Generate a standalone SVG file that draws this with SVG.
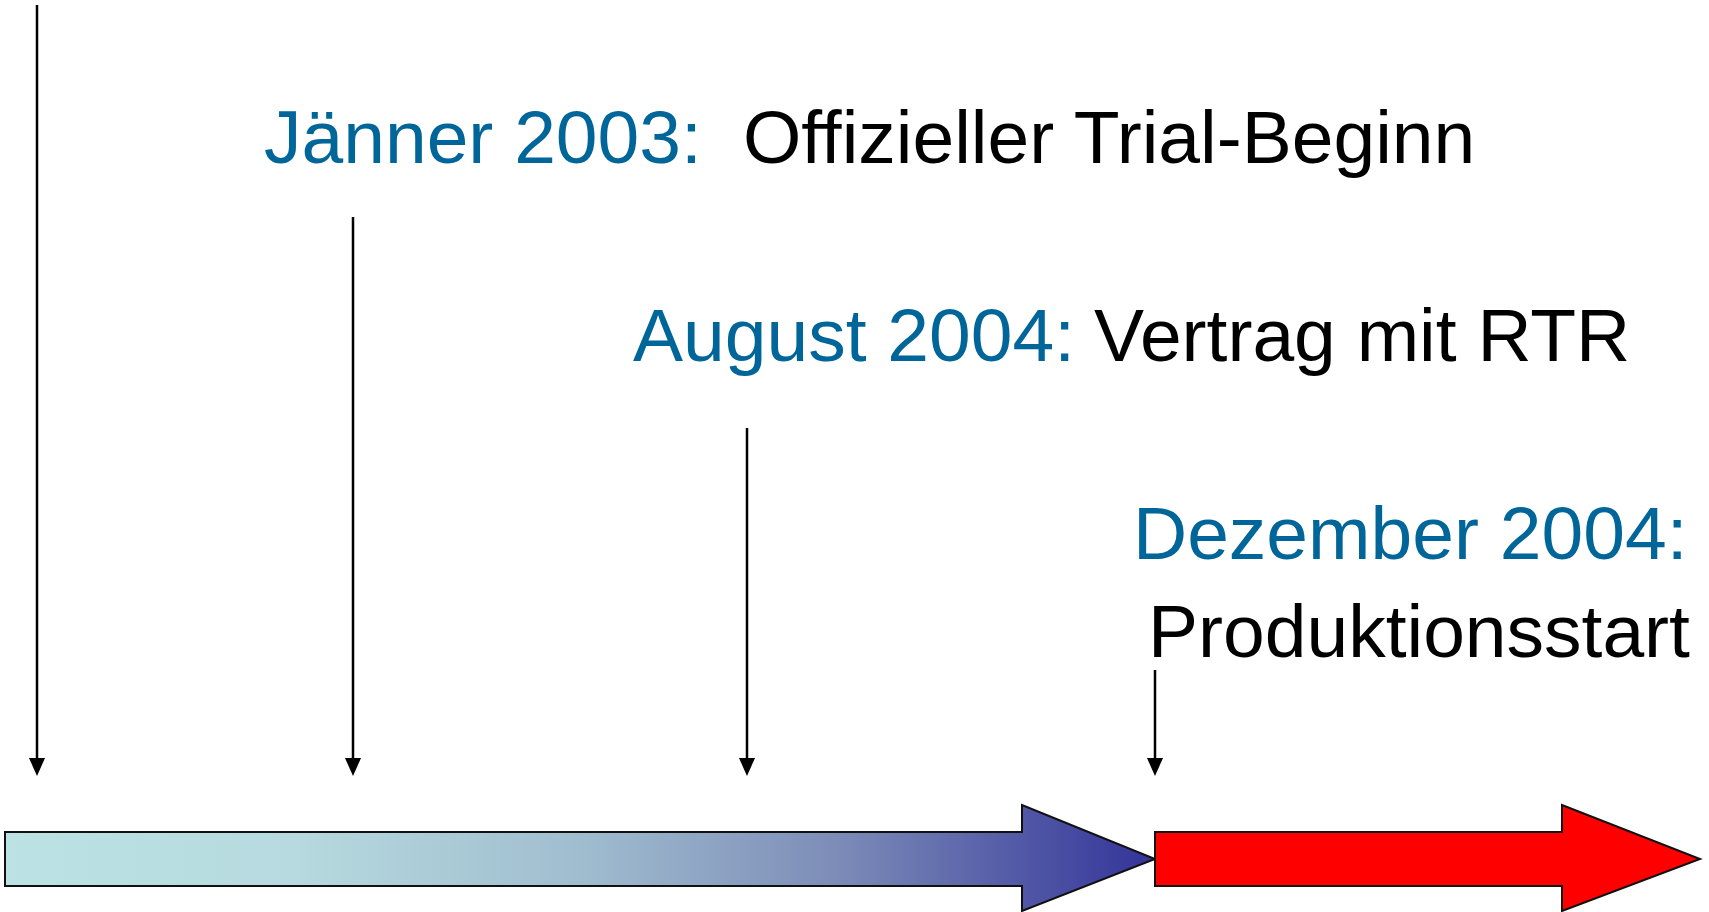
<svg xmlns="http://www.w3.org/2000/svg" width="1709" height="912" viewBox="0 0 1709 912">
  <style>
    .t { font-family: "Liberation Sans", Arial, sans-serif; font-size: 75px; }
    .date { fill: #006699; }
    .desc { fill: #000000; }
    .conn { stroke: #000000; stroke-width: 2.5; fill: none; }
    .head { fill: #000000; }
  </style>
  <defs>
    <linearGradient id="g1" x1="5" y1="0" x2="1155" y2="0" gradientUnits="userSpaceOnUse">
      <stop offset="0" stop-color="#BCE2E4"/>
      <stop offset="0.25" stop-color="#B6DADF"/>
      <stop offset="0.5" stop-color="#A0BDCF"/>
      <stop offset="0.72" stop-color="#7D8DB8"/>
      <stop offset="1" stop-color="#333399"/>
    </linearGradient>
  </defs>

  <g id="timeline-past">
    <polygon points="5,832 1022,832 1022,805 1155,859 1022,911 1022,886 5,886" fill="url(#g1)" stroke="#111111" stroke-width="2"/>
  </g>
  <g id="timeline-production">
    <polygon points="1155,832 1562,832 1562,805 1700,859 1562,911 1562,886 1155,886" fill="#FF0000" stroke="#111111" stroke-width="2"/>
  </g>

  <g id="connectors">
    <line class="conn" x1="37" y1="5" x2="37" y2="760"/>
    <polygon class="head" points="29,758 45,758 37,776"/>
    <line class="conn" x1="353" y1="217" x2="353" y2="760"/>
    <polygon class="head" points="345,758 361,758 353,776"/>
    <line class="conn" x1="747" y1="428" x2="747" y2="760"/>
    <polygon class="head" points="739,758 755,758 747,776"/>
    <line class="conn" x1="1155" y1="670" x2="1155" y2="760"/>
    <polygon class="head" points="1147,758 1163,758 1155,776"/>
  </g>

  <g id="label-jan2003">
    <text class="t" y="163"><tspan class="date" x="264">Jänner 2003:</tspan><tspan class="desc" x="743">Offizieller Trial-Beginn</tspan></text>
  </g>
  <g id="label-aug2004">
    <text class="t" y="361"><tspan class="date" x="633">August 2004:</tspan><tspan class="desc" x="1094">Vertrag mit RTR</tspan></text>
  </g>
  <g id="label-dez2004">
    <text class="t date" x="1133" y="559">Dezember 2004:</text>
    <text class="t desc" x="1148" y="657">Produktionsstart</text>
  </g>
</svg>
